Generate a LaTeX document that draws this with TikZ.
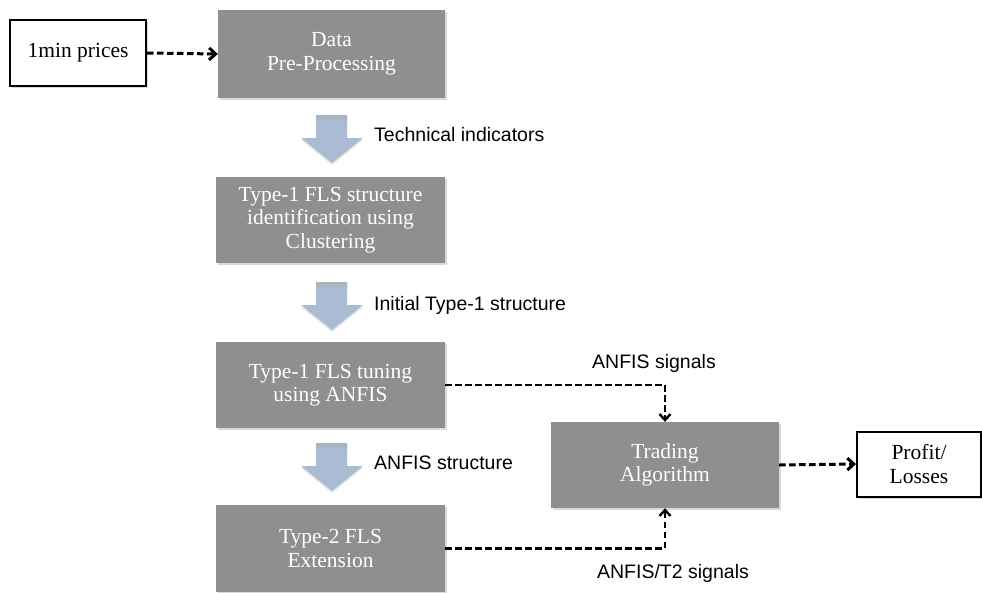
\documentclass[tikz,border=0pt]{standalone}
\usepackage{fontspec}
\setmainfont{Liberation Serif}
\newfontfamily\labelfont{Liberation Sans}
\usetikzlibrary{arrows.meta,shadows}

\definecolor{boxgray}{HTML}{8F8F8F}
\definecolor{arrowblue}{HTML}{A9BCD3}
\definecolor{arrowtop}{HTML}{ABB3BE}

\tikzset{
  procbox/.style={rectangle, fill=boxgray, text=white, align=center,
    minimum width=229pt, minimum height=86pt, inner sep=2pt,
    font=\fontsize{21.5}{23.5}\selectfont,
    drop shadow={shadow xshift=1.5pt, shadow yshift=-2pt, opacity=0.3}},
  iobox/.style={rectangle, draw=black, line width=2pt, fill=white, align=center,
    inner sep=2pt, font=\fontsize{21.5}{23.5}\selectfont,
    drop shadow={shadow xshift=1.5pt, shadow yshift=-2pt, opacity=0.3}},
  steplabel/.style={anchor=west, inner sep=0pt, font=\labelfont\fontsize{19.5}{22}\selectfont},
  siglabel/.style={inner sep=0pt, font=\labelfont\fontsize{19.5}{22}\selectfont},
  flowio/.style={dashed, dash pattern=on 6.5pt off 3.5pt, line width=3pt,
    -{Straight Barb[length=6.5pt,width=12pt,line width=3pt]}},
  signal/.style={dashed, dash pattern=on 6.5pt off 3.5pt, line width=2.4pt,
    -{Straight Barb[length=6pt,width=11pt,line width=2.4pt]}}
}

% downward block arrow between two stages; #1 = x of axis, #2 = y of top
\newcommand{\stagearrow}[2]{%
  \fill[arrowblue, drop shadow={shadow xshift=0pt, shadow yshift=-2pt, opacity=0.2}]
    (#1-16,#2) -- (#1+15,#2) -- (#1+15,#2+23) -- (#1+31,#2+23)
    -- (#1,#2+48) -- (#1-31,#2+23) -- (#1-16,#2+23) -- cycle;
  \shade[top color=arrowtop, bottom color=arrowblue] (#1-16,#2) rectangle (#1+15,#2+8);
}

\begin{document}
\begin{tikzpicture}[x=1pt, y=-1pt]
  \useasboundingbox (0,0) rectangle (982,592);

  % inputs and outputs
  \node[iobox, minimum width=136pt, minimum height=66pt] (prices) at (78,53) {1min prices};
  \node[iobox, minimum width=124pt, minimum height=65pt] (profit) at (919,464) {Profit/\\Losses};

  % processing chain
  \node[procbox, minimum width=227pt, minimum height=88pt] (data) at (331.5,54) {Data\\Pre-Processing};
  \node[procbox] (ident) at (330.5,220) {Type-1 FLS structure\\identification using\\Clustering};
  \node[procbox] (tune) at (330.5,385) {Type-1 FLS tuning\\using ANFIS};
  \node[procbox, minimum height=87pt] (ext) at (330.5,548.5) {Type-2 FLS\\Extension};
  \node[procbox, minimum width=228pt] (trade) at (665,465) {Trading\\Algorithm};

  % block arrows between stages
  \stagearrow{332}{115}
  \stagearrow{332}{282}
  \stagearrow{332}{443}

  \node[steplabel] (l1) at (374,135) {Technical indicators};
  \node[steplabel] (l2) at (374,305) {Initial Type-1 structure};
  \node[steplabel] (l3) at (374,463) {ANFIS structure};

  % signal connectors
  \draw[flowio] (prices.east) -- (data.west);
  \draw[signal] (tune.east) -| (trade.north);
  \draw[signal] (ext.east) -| (trade.south);
  \draw[flowio] (trade.east) -- (profit.west);

  \node[siglabel] (s1) at (654,363) {ANFIS signals};
  \node[siglabel] (s2) at (673,573) {ANFIS/T2 signals};
\end{tikzpicture}
\end{document}
